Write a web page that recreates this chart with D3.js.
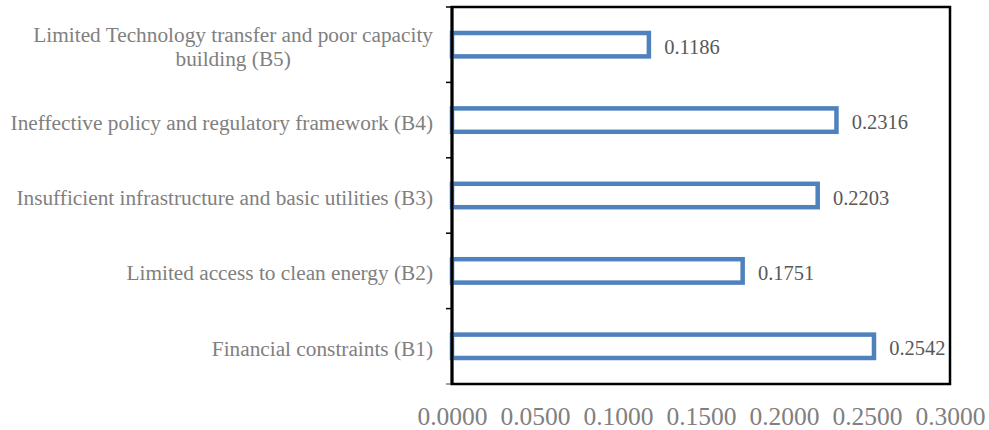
<!DOCTYPE html>
<html>
<head>
<meta charset="utf-8">
<script src="https://cdn.jsdelivr.net/npm/d3@7"></script>
<style>
  html, body { margin: 0; padding: 0; background: #fff; }
  svg { display: block; }
  text { font-family: "Liberation Serif", "Times New Roman", serif; }
</style>
</head>
<body>
<svg id="chart" width="989" height="430"></svg>
<script>
// Barrier categories, top to bottom, with their wrapped label lines
const categories = ["B5", "B4", "B3", "B2", "B1"];
const categoryLabels = [
  ["Limited Technology transfer and poor capacity", "building (B5)"],
  ["Ineffective policy and regulatory framework (B4)"],
  ["Insufficient infrastructure and basic utilities (B3)"],
  ["Limited access to clean energy (B2)"],
  ["Financial constraints (B1)"]
];
// Weights for each barrier
const weights = [0.1186, 0.2316, 0.2203, 0.1751, 0.2542];
const xTicks = [0, 0.05, 0.10, 0.15, 0.20, 0.25, 0.30];

const svg = d3.select("#chart");
const plot = { left: 452, right: 950, top: 7, bottom: 384 };

const x = d3.scaleLinear().domain([0, 0.3]).range([plot.left, plot.right]);
const y = d3.scaleBand().domain(categories).range([plot.top, plot.bottom]).padding(0);

const barColor = "#4F81BD";
const barStroke = 4.5;
const barOuter = y.bandwidth() * 0.37;

// Plot frame
svg.append("rect")
  .attr("x", plot.left).attr("y", plot.top)
  .attr("width", plot.right - plot.left).attr("height", plot.bottom - plot.top)
  .attr("fill", "none").attr("stroke", "#000").attr("stroke-width", 2.5);

// Category boundary ticks on the left axis
const boundaries = categories.map(c => y(c)).concat([plot.bottom]);
svg.append("g").selectAll("line").data(boundaries).join("line")
  .attr("x1", plot.left - 6).attr("x2", plot.left)
  .attr("y1", d => d).attr("y2", d => d)
  .attr("stroke", (d, i) => i === boundaries.length - 1 ? "#808080" : "#000")
  .attr("stroke-width", 1.5);

// Bars: white fill, blue outline
svg.append("g").selectAll("rect").data(categories).join("rect")
  .attr("x", x(0))
  .attr("y", c => y(c) + y.bandwidth() / 2 - (barOuter - barStroke) / 2)
  .attr("width", (c, i) => x(weights[i]) - x(0))
  .attr("height", barOuter - barStroke)
  .attr("fill", "#fff")
  .attr("stroke", barColor)
  .attr("stroke-width", barStroke);

// Left axis line
svg.append("line")
  .attr("x1", plot.left).attr("x2", plot.left)
  .attr("y1", plot.top - 1).attr("y2", plot.bottom + 1)
  .attr("stroke", "#000").attr("stroke-width", 3);

// Value labels
svg.append("g").selectAll("text").data(categories).join("text")
  .attr("x", (c, i) => x(weights[i]) + barStroke / 2 + 13)
  .attr("y", c => y(c) + y.bandwidth() / 2 + 2)
  .attr("dy", "0.35em")
  .attr("fill", "#595959")
  .attr("font-size", 20.5)
  .text((c, i) => d3.format(".4f")(weights[i]));

// Category labels (multi-line labels are centred within their block)
const labelRight = 433;
const lineH = 23.5;
const labelG = svg.append("g").attr("fill", "#808080").attr("font-size", 21.3);
categories.forEach((c, i) => {
  const lines = categoryLabels[i];
  const cy = y(c) + y.bandwidth() / 2 + 2;
  const t = labelG.append("text").attr("y", cy);
  if (lines.length === 1) {
    t.attr("x", labelRight).attr("text-anchor", "end").attr("dy", "0.35em").text(lines[0]);
  } else {
    // measure the widest line to find the block centre
    const tmp = labelG.append("text").text(lines[0]);
    const w = tmp.node().getComputedTextLength();
    tmp.remove();
    const cx = labelRight - w / 2;
    t.attr("text-anchor", "middle");
    lines.forEach((ln, k) => {
      t.append("tspan")
        .attr("x", cx)
        .attr("y", cy + (k - (lines.length - 1) / 2) * lineH)
        .attr("dy", "0.35em")
        .text(ln);
    });
  }
});

// Bottom axis tick labels
const xAxis = d3.axisBottom(x).tickValues(xTicks).tickFormat(d3.format(".4f")).tickSize(0).tickPadding(0);
const gx = svg.append("g").attr("transform", `translate(0, 425)`).call(xAxis);
gx.select(".domain").remove();
gx.selectAll("text")
  .attr("dy", null)
  .attr("y", 0)
  .attr("fill", "#808080")
  .attr("font-size", 25.5)
  .attr("font-family", "'Liberation Serif', 'Times New Roman', serif");
</script>
</body>
</html>
